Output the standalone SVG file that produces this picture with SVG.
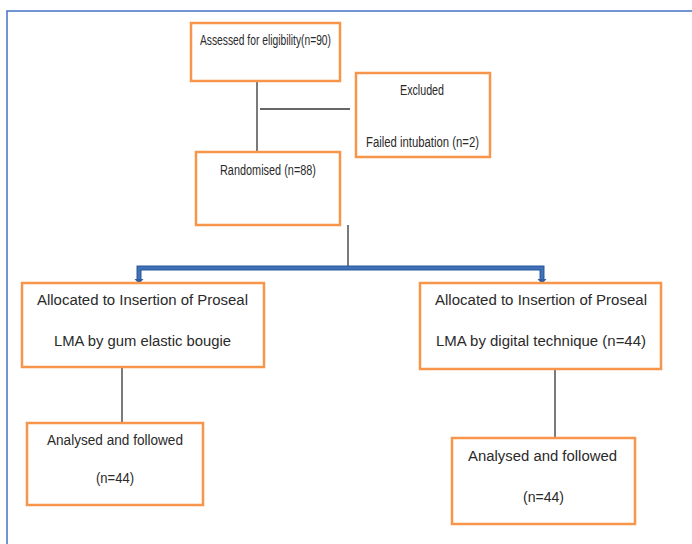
<svg xmlns="http://www.w3.org/2000/svg" width="692" height="544" viewBox="0 0 692 544">
<style>
.box{fill:#fff;stroke:#F7964A;stroke-width:2.5}
.t{font-family:"Liberation Sans",Arial,sans-serif;font-size:14px;fill:#2a2a2a;text-anchor:middle}
.ln{stroke:#333;stroke-width:1.3;fill:none}
</style>
<rect x="0" y="0" width="692" height="544" fill="#fff"/>
<rect x="7" y="11" width="700" height="560" fill="none" stroke="#4472C4" stroke-width="1.5"/>
<g id="connectors">
<line class="ln" x1="257" y1="81" x2="257" y2="152"/>
<line class="ln" x1="260" y1="109" x2="350" y2="109"/>
<line class="ln" x1="348" y1="225" x2="348" y2="268"/>
<path d="M139,280 V268 H542 V280" fill="none" stroke="#2F5D9E" stroke-width="5"/>
<path d="M139,280 V268 H542 V280" fill="none" stroke="#3F72B8" stroke-width="2.5"/>
<path d="M134.5,279 L143.5,279 L139,284 z" fill="#2F5D9E"/>
<path d="M537.5,279 L546.5,279 L542,284 z" fill="#2F5D9E"/>
<line class="ln" x1="122" y1="367" x2="122" y2="423"/>
<line class="ln" x1="555" y1="369" x2="555" y2="438"/>
</g>
<g id="assessed">
<rect class="box" x="191" y="23" width="149" height="58"/>
<text class="t" x="265.5" y="45" textLength="131" lengthAdjust="spacingAndGlyphs">Assessed for eligibility(n=90)</text>
</g>
<g id="excluded">
<rect class="box" x="356" y="73" width="134" height="84"/>
<text class="t" x="422" y="95" textLength="44" lengthAdjust="spacingAndGlyphs">Excluded</text>
<text class="t" x="422.5" y="147" textLength="113" lengthAdjust="spacingAndGlyphs">Failed intubation (n=2)</text>
</g>
<g id="randomised">
<rect class="box" x="196" y="152" width="144" height="73"/>
<text class="t" x="268" y="175" textLength="96" lengthAdjust="spacingAndGlyphs">Randomised (n=88)</text>
</g>
<g id="alloc-left">
<rect class="box" x="22" y="283" width="242" height="84"/>
<text class="t" x="142.5" y="305" textLength="211" lengthAdjust="spacingAndGlyphs">Allocated to Insertion of Proseal</text>
<text class="t" x="142.5" y="346" textLength="177" lengthAdjust="spacingAndGlyphs">LMA by gum elastic bougie</text>
</g>
<g id="alloc-right">
<rect class="box" x="420" y="283" width="241" height="86"/>
<text class="t" x="541" y="305" textLength="212" lengthAdjust="spacingAndGlyphs">Allocated to Insertion of Proseal</text>
<text class="t" x="541" y="346" textLength="210" lengthAdjust="spacingAndGlyphs">LMA by digital technique (n=44)</text>
</g>
<g id="analysed-left">
<rect class="box" x="27" y="423" width="176" height="82"/>
<text class="t" x="115" y="445" textLength="136" lengthAdjust="spacingAndGlyphs">Analysed and followed</text>
<text class="t" x="115" y="483" textLength="38" lengthAdjust="spacingAndGlyphs">(n=44)</text>
</g>
<g id="analysed-right">
<rect class="box" x="452" y="438" width="183" height="86"/>
<text class="t" x="542.5" y="461" textLength="149" lengthAdjust="spacingAndGlyphs">Analysed and followed</text>
<text class="t" x="543.5" y="502" textLength="41" lengthAdjust="spacingAndGlyphs">(n=44)</text>
</g>
</svg>
